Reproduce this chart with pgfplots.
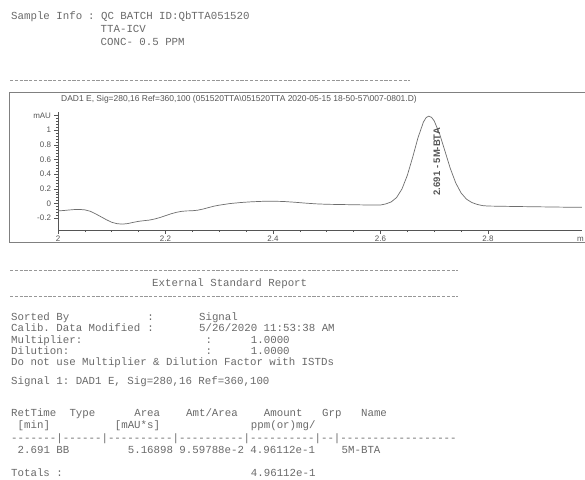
\documentclass[border=0pt]{standalone}
\usepackage{fontspec}
\setmainfont{Liberation Sans}
\setsansfont{Liberation Sans}
\setmonofont{Liberation Mono}
\usepackage{pgfplots}
\pgfplotsset{compat=1.18}
\definecolor{txt}{HTML}{6A6A6A}
\definecolor{ink}{HTML}{555555}
\newcommand{\mt}[3]{\node[anchor=base west,inner sep=0pt,font=\ttfamily\fontsize{10.8}{12}\selectfont,text=txt] at ({(11+6.48*#1)*1bp},{-#2*1bp}) {#3};}
\newcommand{\ma}[3]{\node[anchor=base west,inner sep=0pt,font=\ttfamily\fontsize{10.8}{12}\selectfont,text=txt] at ({#1*1bp},{-#2*1bp}) {#3};}
\newcommand{\sep}[2]{\draw[txt!70,line width=1bp,dash pattern=on 3.2bp off 1.6bp] (10bp,{-#1*1bp}) -- ({#2*1bp},{-#1*1bp});}
\pgfplotstableread{
x y
2.000 -0.100
2.010 -0.095
2.020 -0.088
2.030 -0.082
2.040 -0.080
2.050 -0.086
2.060 -0.105
2.070 -0.140
2.080 -0.180
2.090 -0.220
2.100 -0.255
2.110 -0.274
2.120 -0.280
2.130 -0.272
2.140 -0.256
2.150 -0.242
2.160 -0.233
2.170 -0.225
2.180 -0.210
2.190 -0.190
2.200 -0.165
2.210 -0.140
2.220 -0.120
2.230 -0.106
2.240 -0.100
2.250 -0.098
2.260 -0.090
2.270 -0.075
2.280 -0.055
2.290 -0.036
2.300 -0.022
2.320 0.000
2.340 0.014
2.360 0.024
2.380 0.030
2.400 0.032
2.420 0.028
2.440 0.018
2.460 0.006
2.480 -0.004
2.500 -0.010
2.540 -0.015
2.580 -0.020
2.600 -0.020
2.610 -0.005
2.620 0.022
2.630 0.082
2.640 0.198
2.650 0.384
2.660 0.632
2.670 0.900
2.680 1.110
2.685 1.170
2.690 1.190
2.695 1.173
2.700 1.125
2.710 0.949
2.720 0.714
2.730 0.477
2.740 0.282
2.750 0.144
2.760 0.060
2.770 0.014
2.780 -0.012
2.790 -0.028
2.800 -0.034
2.850 -0.040
2.900 -0.045
2.950 -0.050
2.975 -0.050
}\chrom
\begin{document}
\begin{tikzpicture}
\useasboundingbox (0,0) rectangle (585bp,-480bp);
\fill[white] (0,0) rectangle (585bp,-480bp);
% header
\ma{11}{19.5}{Sample~Info}
\ma{88}{19.5}{:~QC~BATCH~ID:QbTTA051520}
\ma{100.5}{32.5}{TTA-ICV}
\ma{100.5}{45.5}{CONC-~0.5~PPM}
\sep{80}{410}
% chart frame
\draw[ink!75,line width=0.8bp] (600bp,-92bp) -- (9bp,-92bp) -- (9bp,-242bp) -- (600bp,-242bp);
\node[anchor=west,inner sep=0pt,font=\sffamily\fontsize{8.5}{9}\selectfont,text=ink] at (61bp,-99bp)
  {DAD1 E, Sig=280,16 Ref=360,100 (051520TTA\textbackslash 051520TTA 2020-05-15 18-50-57\textbackslash 007-0801.D)};
\begin{axis}[
  at={(58bp,-230bp)}, anchor=south west, scale only axis,
  width=524bp, height=118.3bp,
  xmin=2, xmax=2.975, ymin=-0.36, ymax=1.25,
  axis lines=left, axis line style={-,ink,line width=0.7bp},
  xtick={2,2.2,2.4,2.6,2.8}, xticklabels={2,2.2,2.4,2.6,2.8},
  minor x tick num=3,
  ytick={-0.2,0,0.2,0.4,0.6,0.8,1,1.2},
  yticklabels={-0.2,0,0.2,0.4,0.6,0.8,1,mAU},
  minor y tick num=4,
  tick align=outside, major tick length=3.5bp, minor tick length=2bp,
  tick style={ink,line width=0.5bp},
  ticklabel style={font=\sffamily\fontsize{8}{9}\selectfont,text=ink},
  xticklabel style={yshift=1bp},
  clip=false,
]
\addplot[ink!85,line width=0.7bp] table[x=x,y=y] {\chrom};
\node[rotate=90,anchor=west,inner sep=0pt,font=\sffamily\bfseries\fontsize{9.5}{10}\selectfont,text=ink] at (axis cs:2.705,0.11) {2.691 - 5M-BTA};
\node[anchor=base,inner sep=0pt,font=\sffamily\fontsize{8}{9}\selectfont,text=ink] at (axis cs:2.972,-0.52) {m};
\end{axis}
% report
\sep{270}{458}
\ma{152}{286.5}{External~Standard~Report}
\sep{296}{458}
\mt{0}{320}{Sorted~By}
\mt{21}{320}{:}
\mt{29}{320}{Signal}
\mt{0}{331.5}{Calib.~Data~Modified}
\mt{21}{331.5}{:}
\mt{29}{331.5}{5/26/2020~11:53:38~AM}
\mt{0}{343}{Multiplier:}
\mt{30}{343}{:}
\mt{37}{343}{1.0000}
\mt{0}{354}{Dilution:}
\mt{30}{354}{:}
\mt{37}{354}{1.0000}
\mt{0}{365}{Do~not~use~Multiplier~\&~Dilution~Factor~with~ISTDs}
\mt{0}{384.5}{Signal~1:~DAD1~E,~Sig=280,16~Ref=360,100}
\mt{0}{416}{RetTime}
\mt{9}{416}{Type}
\mt{19}{416}{Area}
\mt{27}{416}{Amt/Area}
\mt{39}{416}{Amount}
\mt{48}{416}{Grp}
\mt{54}{416}{Name}
\mt{1}{428}{[min]}
\mt{16}{428}{[mAU*s]}
\mt{37}{428}{ppm(or)mg/}
\mt{0}{441}{-------|------|----------|----------|----------|--|------------------}
\mt{1}{453}{2.691~BB}
\mt{18}{453}{5.16898~9.59788e-2~4.96112e-1}
\mt{51}{453}{5M-BTA}
\mt{0}{476}{Totals~:}
\mt{37}{476}{4.96112e-1}
\end{tikzpicture}
\end{document}
